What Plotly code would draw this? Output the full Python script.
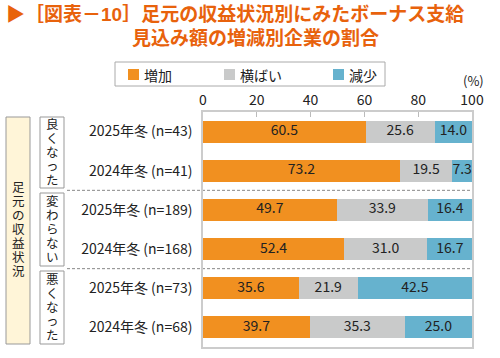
import plotly.graph_objects as go

# ---- data ----
row_labels = ["2025年冬 (n=43)", "2024年冬 (n=41)", "2025年冬 (n=189)",
              "2024年冬 (n=168)", "2025年冬 (n=73)", "2024年冬 (n=68)"]
series_names = ["増加", "横ばい", "減少"]
increase = [60.5, 73.2, 49.7, 52.4, 35.6, 39.7]
flat = [25.6, 19.5, 33.9, 31.0, 21.9, 35.3]
decrease = [14.0, 7.3, 16.4, 16.7, 42.5, 25.0]
group_labels = ["良くなった", "変わらない", "悪くなった"]
outer_label = "足元の収益状況"
x_ticks = [0, 20, 40, 60, 80, 100]
title1 = "▶［図表－10］足元の収益状況別にみたボーナス支給"
title2 = "見込み額の増減別企業の割合"

colors = ["#F19020", "#C9CACA", "#66B2CE"]
title_color = "#E8620C"
FONT = "Noto Sans CJK JP"
VFONT = "Liberation Sans, Noto Sans CJK JP"
W, H = 500, 358
PL, PR, PT, PB = 203, 472, 112, 347   # plot area in px


def px_x(p):
    return (p - PL) / (PR - PL)


def px_y(p):
    return (PB - p) / (PB - PT)


fig = go.Figure()
series = [increase, flat, decrease]
for name, vals, col in zip(series_names, series, colors):
    fig.add_trace(go.Bar(
        y=row_labels, x=vals, name=name, orientation="h",
        marker=dict(color=col, line=dict(width=0)),
        showlegend=False, hoverinfo="x+name",
    ))

# value labels centred in each segment (positions through the axis scale)
for i, vals in enumerate(series):
    base = [sum(s[j] for s in series[:i]) for j in range(len(vals))]
    fig.add_trace(go.Scatter(
        y=row_labels, x=[b + v / 2 for b, v in zip(base, vals)],
        mode="text", text=[f"{v:.1f}" for v in vals],
        textposition="middle center",
        textfont=dict(family=FONT, size=14, color="#222"),
        showlegend=False, hoverinfo="skip", cliponaxis=False,
    ))

shapes = []
annotations = []

# separators
for yv in [1.5, 3.5]:
    shapes.append(dict(type="line", xref="paper", yref="y",
                       x0=px_x(67), x1=1, y0=yv, y1=yv, layer="below",
                       line=dict(color="#888", width=1, dash="3px,2px")))

# outer vertical box
shapes.append(dict(type="rect", xref="paper", yref="paper",
                   x0=px_x(6), x1=px_x(30), y0=px_y(344), y1=px_y(117),
                   fillcolor="#FFF5D8", line=dict(color="#999", width=1)))
# group boxes
group_boxes = [(117, 188), (193, 266), (271, 344)]
for (t, b) in group_boxes:
    shapes.append(dict(type="rect", xref="paper", yref="paper",
                       x0=px_x(40), x1=px_x(64), y0=px_y(b), y1=px_y(t),
                       fillcolor="white", line=dict(color="#999", width=1)))


def vertical_text(text, xc, yc, size=12.5, step=14.0):
    n = len(text)
    for k, ch in enumerate(text):
        yy = yc + (k - (n - 1) / 2) * step
        annotations.append(dict(xref="paper", yref="paper", x=px_x(xc), y=px_y(yy),
                                text=ch, showarrow=False, xanchor="center",
                                yanchor="middle",
                                font=dict(family=VFONT, size=size, color="#222")))


vertical_text(outer_label, 18, 229.5)
for lab, (t, b) in zip(group_labels, group_boxes):
    vertical_text(lab, 52, (t + b) / 2)

# legend (manual)
shapes.append(dict(type="rect", xref="paper", yref="paper",
                   x0=px_x(115), x1=px_x(385), y0=px_y(86), y1=px_y(62),
                   fillcolor="white", line=dict(color="#aaa", width=1)))
leg_x = [128, 224, 333]
for name, col, lx in zip(series_names, colors, leg_x):
    shapes.append(dict(type="rect", xref="paper", yref="paper",
                       x0=px_x(lx), x1=px_x(lx + 11), y0=px_y(80), y1=px_y(69),
                       fillcolor=col, line=dict(width=0)))
    annotations.append(dict(xref="paper", yref="paper", x=px_x(lx + 14), y=px_y(74.5),
                            text=name, showarrow=False, xanchor="left", yanchor="middle",
                            font=dict(family=FONT, size=14, color="#222")))

# (%) label
annotations.append(dict(xref="paper", yref="paper", x=px_x(473), y=px_y(81),
                        text="(%)", showarrow=False, xanchor="center", yanchor="middle",
                        font=dict(family=FONT, size=13, color="#222")))

# titles
annotations.append(dict(xref="paper", yref="paper", x=px_x(4), y=px_y(15),
                        text="<b>" + title1 + "</b>", showarrow=False,
                        xanchor="left", yanchor="middle",
                        font=dict(family=VFONT, size=19, color=title_color)))
annotations.append(dict(xref="paper", yref="paper", x=px_x(255), y=px_y(38),
                        text="<b>" + title2 + "</b>", showarrow=False,
                        xanchor="center", yanchor="middle",
                        font=dict(family=VFONT, size=19, color=title_color)))

fig.update_layout(
    width=W, height=H, barmode="stack", bargap=0.44,
    margin=dict(l=PL, r=W - PR, t=PT, b=H - PB, pad=0, autoexpand=False),
    plot_bgcolor="white", paper_bgcolor="white",
    shapes=shapes, annotations=annotations,
    font=dict(family=FONT, color="#222"),
    xaxis=dict(side="top", range=[0, 100], tickvals=x_ticks, ticks="inside",
               ticklen=5, tickcolor="#bbb", showgrid=False, zeroline=False,
               showline=True, mirror=True, linecolor="#ccc", linewidth=1.5,
               tickfont=dict(family=FONT, size=14, color="#222"), fixedrange=True),
    yaxis=dict(categoryorder="array", categoryarray=row_labels, autorange="reversed",
               showline=True, mirror=True, linecolor="#ccc", linewidth=1.5,
               ticks="", ticklabelstandoff=6, showgrid=False,
               tickfont=dict(family=FONT, size=14, color="#222"), fixedrange=True),
)

fig.write_html("out.html", config={"displayModeBar": False},
               post_script="document.body.style.margin='0px';")
